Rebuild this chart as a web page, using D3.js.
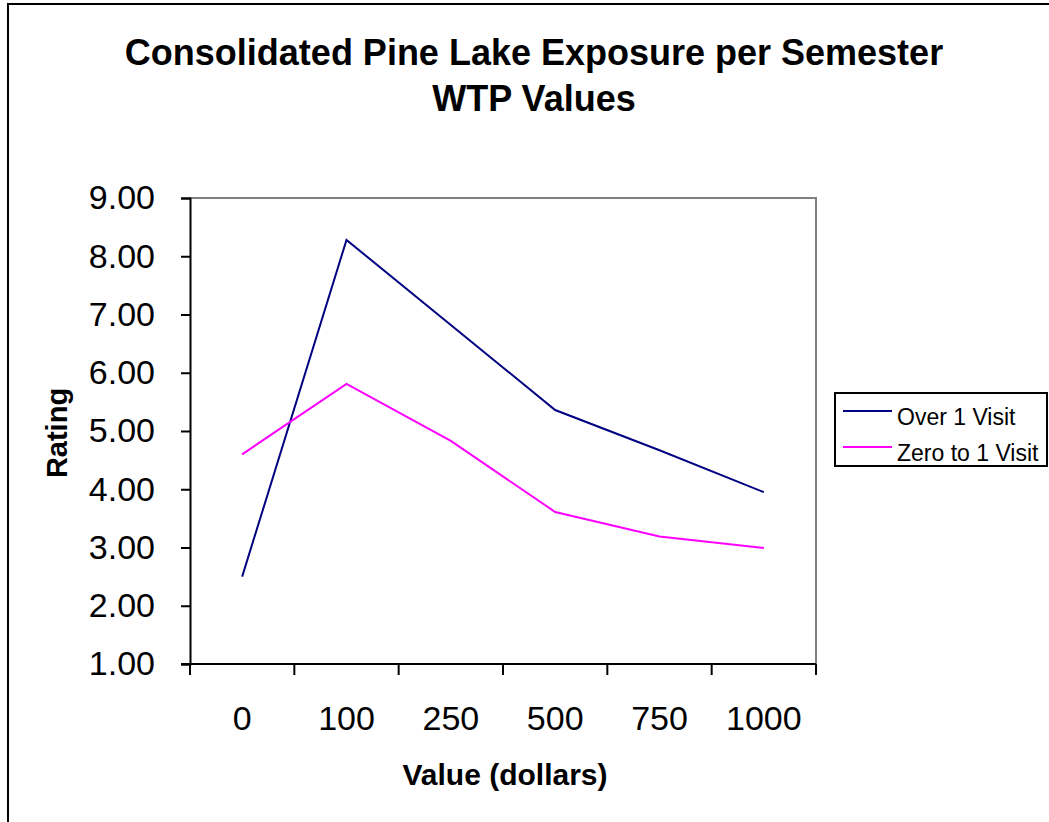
<!DOCTYPE html>
<html>
<head>
<meta charset="utf-8">
<script src="https://cdn.jsdelivr.net/npm/d3@7/dist/d3.min.js"></script>
<style>
  html, body { margin: 0; padding: 0; background: #fff; }
  svg { display: block; font-family: Arial, "Liberation Sans", sans-serif; }
</style>
</head>
<body>
<svg id="chart" width="1049" height="822"></svg>
<script>
// Willingness-to-pay ratings by dollar value, split by number of visits
const categories = ["0", "100", "250", "500", "750", "1000"];
const overOneVisit = [2.50, 8.28, 6.82, 5.36, 4.67, 3.95];
const zeroToOneVisit = [4.60, 5.81, 4.83, 3.61, 3.19, 2.99];
const yTicks = [1, 2, 3, 4, 5, 6, 7, 8, 9];
const seriesNames = ["Over 1 Visit", "Zero to 1 Visit"];
const seriesColors = ["#000080", "#FF00FF"];

const series = [
  { name: seriesNames[0], color: seriesColors[0], values: overOneVisit },
  { name: seriesNames[1], color: seriesColors[1], values: zeroToOneVisit }
];

const svg = d3.select("#chart");

// outer chart frame (runs off the right and bottom edges)
svg.append("rect")
  .attr("x", 8).attr("y", 4)
  .attr("width", 1080).attr("height", 860)
  .attr("fill", "#fff").attr("stroke", "#000").attr("stroke-width", 2);

const plot = { left: 190, right: 816, top: 198, bottom: 664 };

const x = d3.scaleBand().domain(categories).range([plot.left, plot.right]).paddingInner(0).paddingOuter(0);
const y = d3.scaleLinear().domain([1, 9]).range([plot.bottom, plot.top]);

// title
const title = svg.append("text")
  .attr("text-anchor", "middle")
  .attr("font-weight", "bold")
  .attr("font-size", 36)
  .attr("fill", "#000");
title.append("tspan").attr("x", 534).attr("y", 65).text("Consolidated Pine Lake Exposure per Semester");
title.append("tspan").attr("x", 534).attr("y", 111).text("WTP Values");

// plot frame: grey top and right edges
svg.append("path")
  .attr("d", `M${plot.left},${plot.top}H${plot.right}V${plot.bottom}`)
  .attr("fill", "none").attr("stroke", "#808080").attr("stroke-width", 2);

// y axis
const yAxis = svg.append("g")
  .attr("transform", `translate(${plot.left},0)`)
  .call(d3.axisLeft(y).tickValues(yTicks).tickFormat(d3.format(".2f")).tickSizeOuter(0).tickSize(9).tickPadding(26));
yAxis.select(".domain").attr("stroke", "#000").attr("stroke-width", 2);
yAxis.selectAll(".tick line").attr("stroke", "#000").attr("stroke-width", 2);
yAxis.selectAll(".tick text").attr("font-size", 34).attr("fill", "#000")
  .attr("font-family", "Arial, 'Liberation Sans', sans-serif");

// x axis with ticks on band boundaries
const xAxis = svg.append("g")
  .attr("transform", `translate(0,${plot.bottom})`)
  .call(d3.axisBottom(x).tickSize(0).tickPadding(42));
xAxis.select(".domain").remove();
xAxis.selectAll(".tick text").attr("font-size", 34).attr("fill", "#000")
  .attr("font-family", "Arial, 'Liberation Sans', sans-serif");
xAxis.append("line")
  .attr("x1", plot.left - 9).attr("x2", plot.right)
  .attr("stroke", "#000").attr("stroke-width", 2);
const boundaries = categories.map(c => x(c)).concat([x(categories[categories.length - 1]) + x.bandwidth()]);
xAxis.selectAll(".bound")
  .data(boundaries)
  .join("line")
  .attr("class", "bound")
  .attr("x1", d => d).attr("x2", d => d)
  .attr("y1", 0).attr("y2", 11)
  .attr("stroke", "#000").attr("stroke-width", 2);

// axis titles
svg.append("text")
  .attr("x", (plot.left + plot.right) / 2 + 2).attr("y", 785)
  .attr("text-anchor", "middle").attr("font-weight", "bold").attr("font-size", 30)
  .text("Value (dollars)");
svg.append("text")
  .attr("transform", `translate(67,${(plot.top + plot.bottom) / 2 + 2}) rotate(-90)`)
  .attr("text-anchor", "middle").attr("font-weight", "bold").attr("font-size", 29)
  .text("Rating");

// series lines
const line = d3.line()
  .x((d, i) => x(categories[i]) + x.bandwidth() / 2)
  .y(d => y(d));
svg.selectAll(".series")
  .data(series)
  .join("path")
  .attr("class", "series")
  .attr("d", d => line(d.values))
  .attr("fill", "none")
  .attr("stroke", d => d.color)
  .attr("stroke-width", 2);

// legend
const legend = svg.append("g");
legend.append("rect")
  .attr("x", 835).attr("y", 393).attr("width", 212).attr("height", 73)
  .attr("fill", "#fff").attr("stroke", "#000").attr("stroke-width", 2);
const items = legend.selectAll(".item")
  .data(series)
  .join("g")
  .attr("class", "item")
  .attr("transform", (d, i) => `translate(0,${411 + i * 36})`);
items.append("line")
  .attr("x1", 843).attr("x2", 892).attr("y1", 0).attr("y2", 0)
  .attr("stroke", d => d.color).attr("stroke-width", 2);
items.append("text")
  .attr("x", 897).attr("y", 14)
  .attr("font-size", 23).attr("fill", "#000")
  .text(d => d.name);
</script>
</body>
</html>
